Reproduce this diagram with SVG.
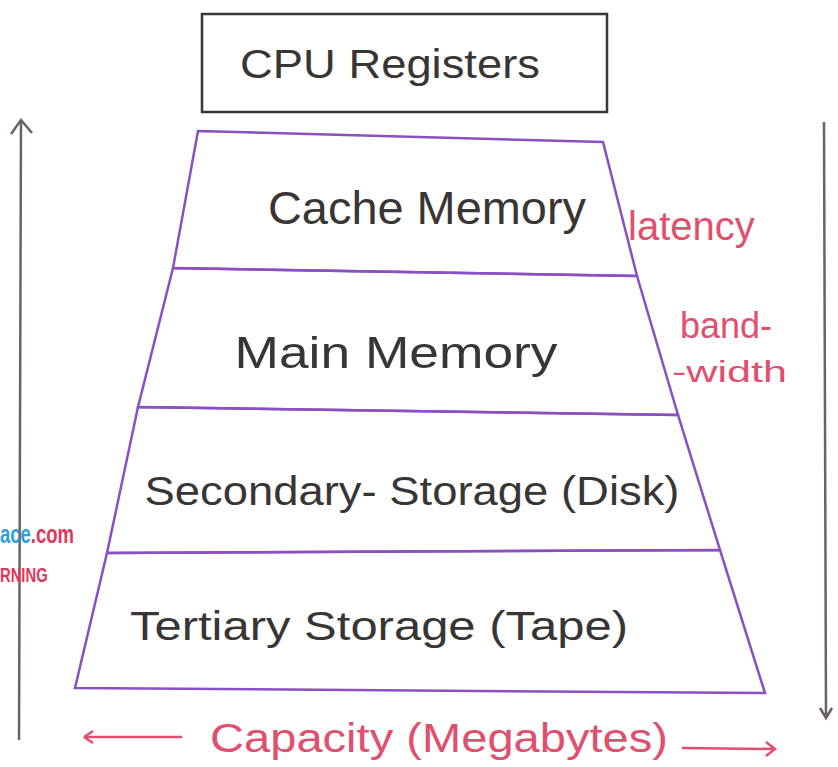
<svg xmlns="http://www.w3.org/2000/svg" width="838" height="767" viewBox="0 0 838 767">
<style>
.lbl{font-family:"Liberation Sans",Arial,sans-serif;fill:#3a3535;text-anchor:middle}
.pink{font-family:"Liberation Sans",Arial,sans-serif;fill:#e04f6e}
.edge{stroke:#8a4fc0;stroke-width:2.5;fill:none}
.ax{stroke:#6b6262;stroke-width:2.5;fill:none}
</style>
<rect width="838" height="767" fill="#ffffff"/>
<g id="cpu-registers">
<rect x="202" y="14" width="405" height="98" fill="none" stroke="#3a3535" stroke-width="2.5"/>
<text class="lbl" x="390" y="78" font-size="40" textLength="300" lengthAdjust="spacingAndGlyphs">CPU Registers</text>
</g>
<g id="cache-memory">
<path class="edge" d="M198,131 L603,142 L637,276 L173,268 Z"/>
<text class="lbl" x="427" y="224" font-size="46" textLength="318" lengthAdjust="spacingAndGlyphs">Cache Memory</text>
</g>
<g id="main-memory">
<path class="edge" d="M173,268 L637,276 L678,415 L138,407 Z"/>
<text class="lbl" x="396" y="368" font-size="44" textLength="323" lengthAdjust="spacingAndGlyphs">Main Memory</text>
</g>
<g id="secondary-storage">
<path class="edge" d="M138,407 L678,415 L720,550 L107,553 Z"/>
<text class="lbl" x="412" y="505" font-size="40" textLength="535" lengthAdjust="spacingAndGlyphs">Secondary- Storage (Disk)</text>
</g>
<g id="tertiary-storage">
<path class="edge" d="M107,553 L720,550 L765,693 L75,688 Z"/>
<text class="lbl" x="379" y="640" font-size="40" textLength="498" lengthAdjust="spacingAndGlyphs">Tertiary Storage (Tape)</text>
</g>
<g id="connectors">
<path class="ax" d="M19,740 L21,120 M11,134 L21,120 L32,133"/>
<path class="ax" d="M824,122 L826,717 M820,708 L826,718 L832,708"/>
<path d="M84,737 L182,737 M84,737 L93,731 M84,737 L93,743" stroke="#e04f6e" stroke-width="2.5" fill="none"/>
<path d="M682,748 L775,749 M766,742 L775,749 L766,756" stroke="#e04f6e" stroke-width="2.5" fill="none"/>
</g>
<g id="annotations">
<text class="pink" x="628" y="240" font-size="40">latency</text>
<text class="pink" x="680" y="338" font-size="36">band-</text>
<text class="pink" x="672" y="382" font-size="30" textLength="115" lengthAdjust="spacingAndGlyphs">-width</text>
<text class="pink" x="210" y="752" font-size="40" textLength="458" lengthAdjust="spacingAndGlyphs">Capacity (Megabytes)</text>
</g>
<g id="watermark" font-family="'Liberation Sans',Arial,sans-serif" font-weight="bold">
<text transform="translate(0,543) scale(0.74,1)" x="0" y="0" font-size="25"><tspan fill="#2a9fd8">ace</tspan><tspan fill="#e0365c">.com</tspan></text>
<text transform="translate(0,582) scale(0.74,1)" x="0" y="0" font-size="20" fill="#e0365c">RNING</text>
</g>
</svg>
